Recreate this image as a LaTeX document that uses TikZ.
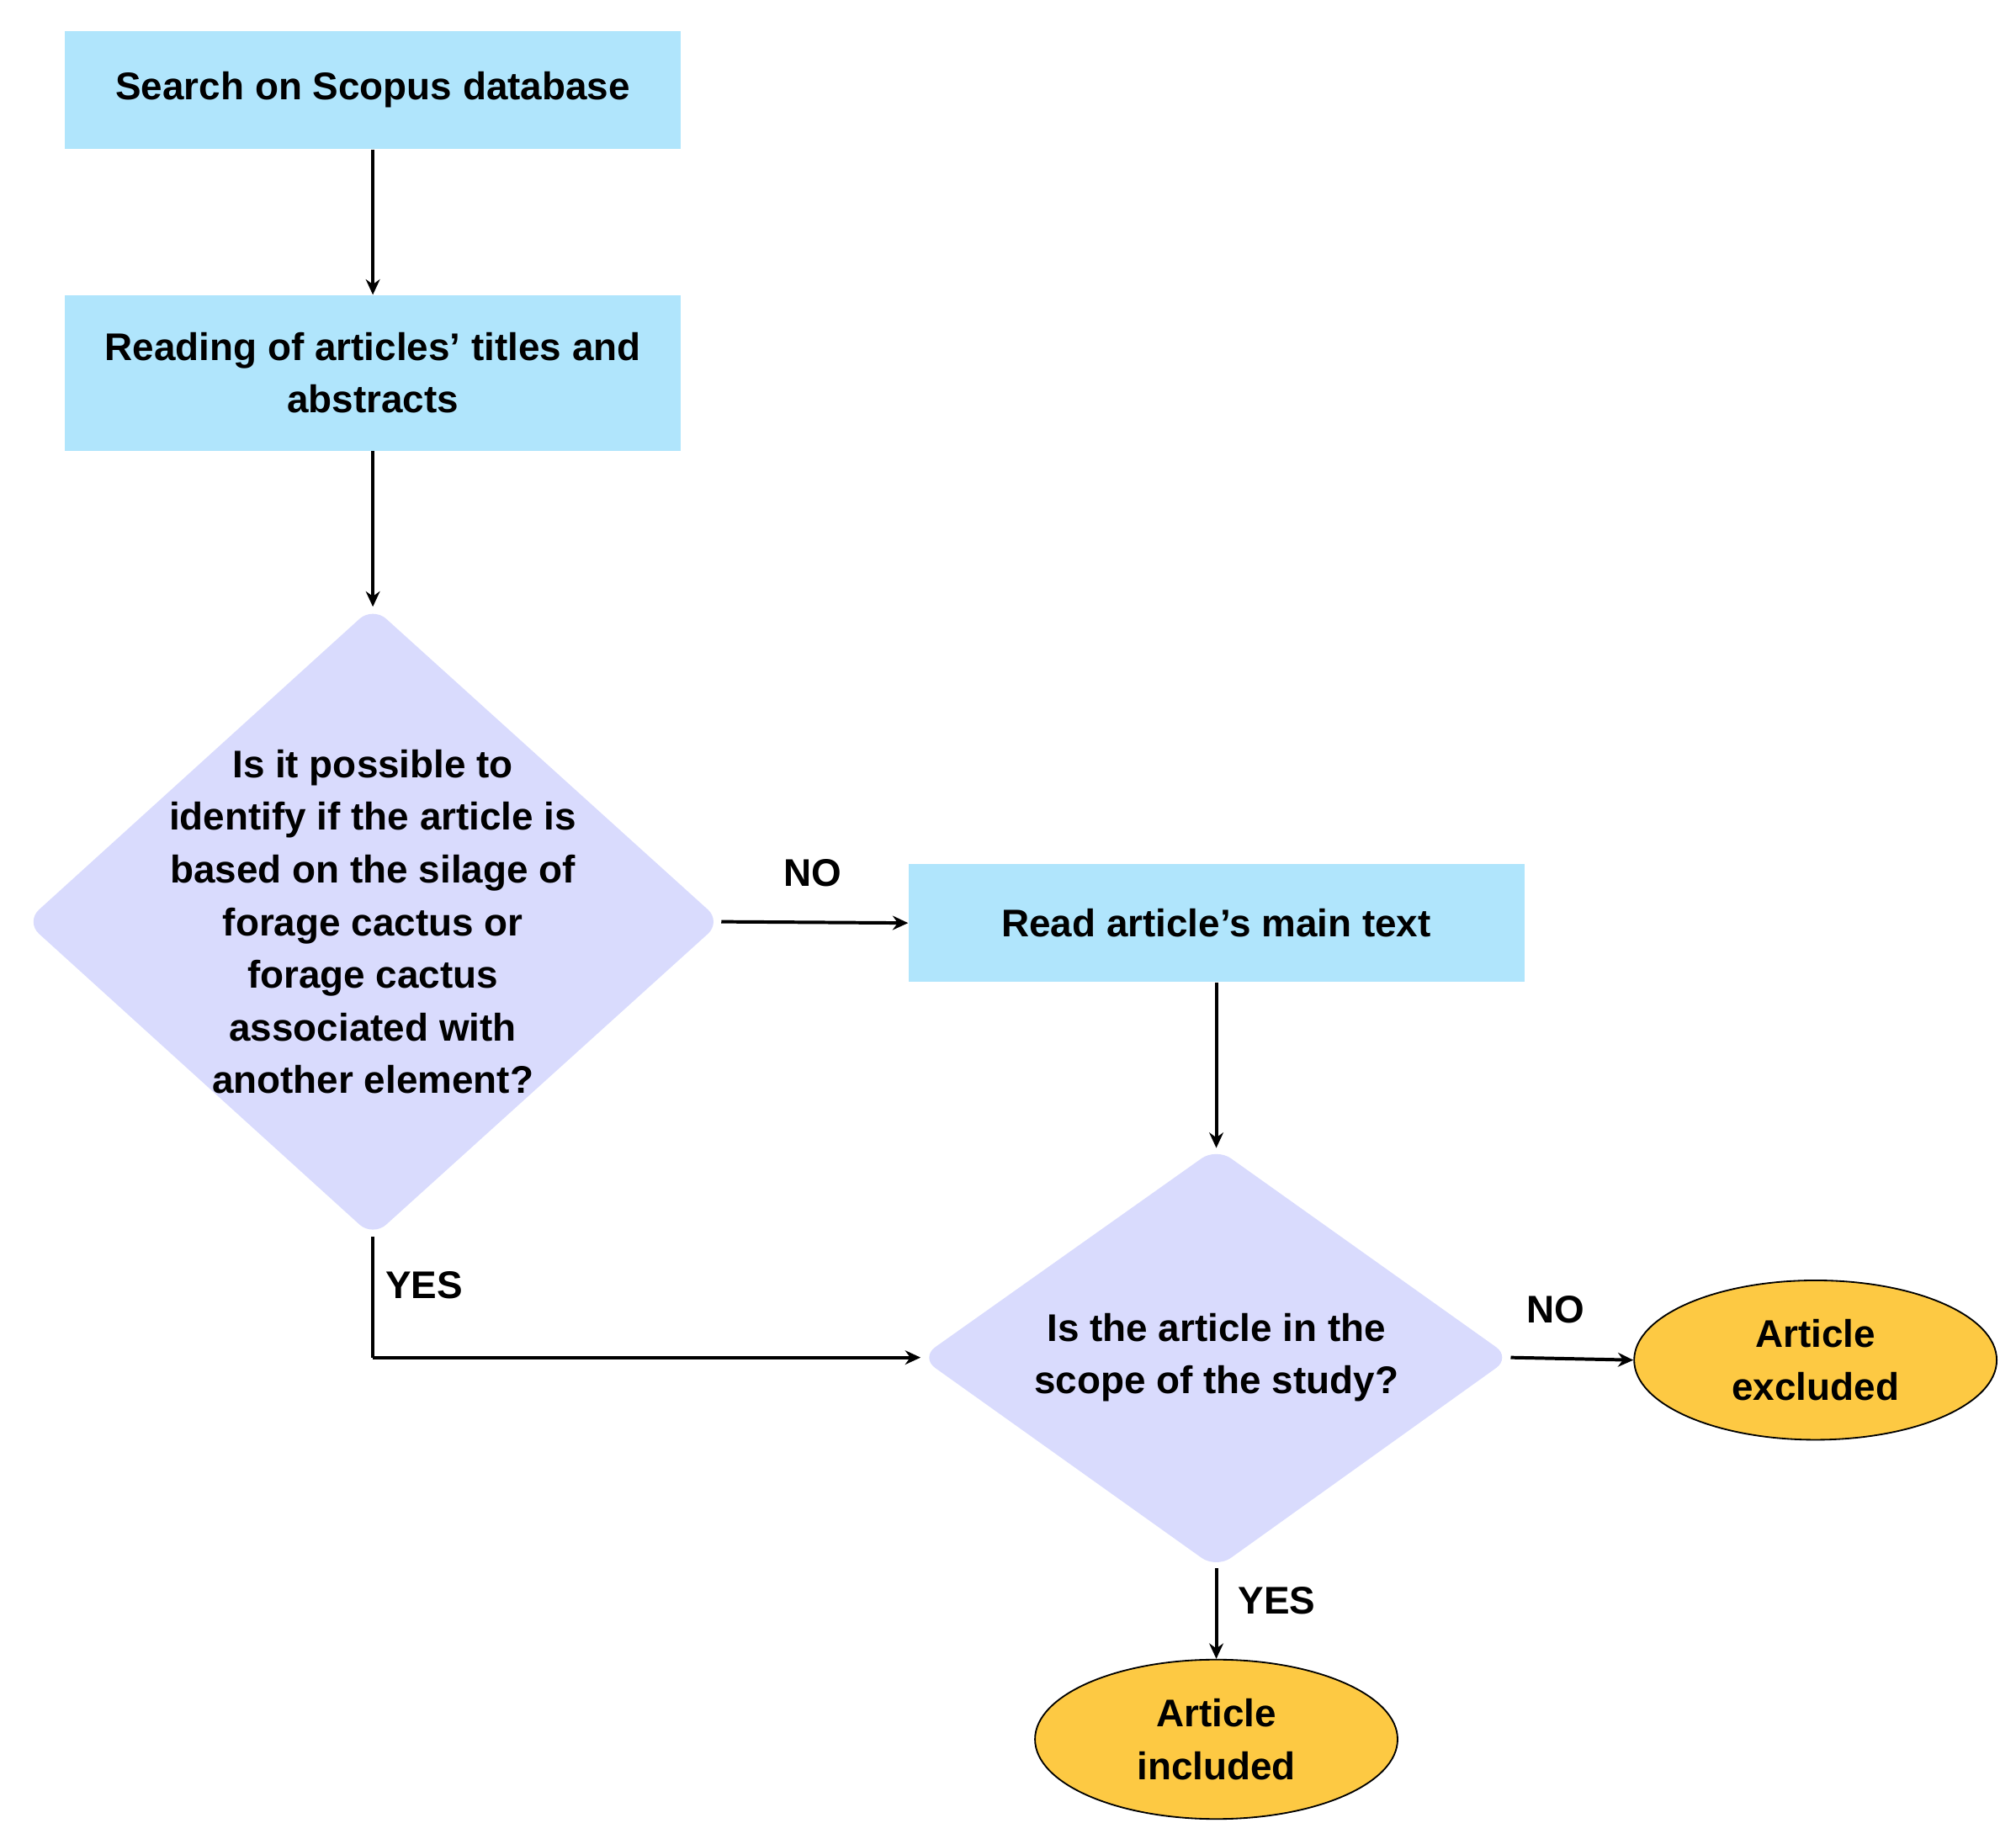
\documentclass[tikz,border=0pt]{standalone}
\usepackage{fontspec}
\setmainfont{Liberation Sans}
\usetikzlibrary{arrows.meta,shapes.geometric}
\definecolor{boxc}{HTML}{B0E5FC}
\definecolor{diac}{HTML}{D9DBFD}
\definecolor{ellc}{HTML}{FDC943}
\begin{document}
\begin{tikzpicture}[x=1pt,y=-1pt,
  txt/.style={font=\fontsize{30}{41}\selectfont\bfseries,align=center},
  box/.style={txt,fill=boxc,minimum width=479pt,inner sep=0pt},
  ell/.style={txt,ellipse,draw=black,line width=1.2pt,fill=ellc,minimum width=282pt,minimum height=124pt,inner sep=0pt},
  dia/.style={fill=diac,rounded corners=14pt},
  arr/.style={draw,line width=2.6pt,-{Stealth[length=12pt,width=11pt]}},
  lab/.style={txt}]
\useasboundingbox (0,0) rectangle (1568,1430);
\node[box,minimum height=92pt] (b1) at (290,70) {Search on Scopus database};
\node[box,minimum height=121pt] (b2) at (290,290) {Reading of articles' titles and\\abstracts};
\coordinate (d1t) at (290,472); \coordinate (d1b) at (290,962);
\coordinate (d1l) at (20,717); \coordinate (d1r) at (561,717);
\path[dia] (d1t) -- (d1r) -- (d1b) -- (d1l) -- cycle;
\node[txt] (d1) at (290,717) {Is it possible to\\identify if the article is\\based on the silage of\\forage cactus or\\forage cactus\\associated with\\another element?};
\node[box,minimum height=92pt] (b3) at (946,718) {Read article's main text};
\coordinate (d2t) at (946,893); \coordinate (d2b) at (946,1220);
\coordinate (d2l) at (716,1056); \coordinate (d2r) at (1175,1056);
\path[dia] (d2t) -- (d2r) -- (d2b) -- (d2l) -- cycle;
\node[txt] (d2) at (946,1056) {Is the article in the\\scope of the study?};
\node[ell] (ex) at (1412,1058) {Article\\excluded};
\node[ell] (in) at (946,1353) {Article\\included};
\coordinate (corner) at (290,1056);
\draw[arr] (b1) -- (b2);
\draw[arr] (b2) -- (d1t);
\draw[arr] (d1r) -- (b3.west);
\draw[arr] (b3) -- (d2t);
\draw[line width=2.6pt] (d1b) -- (corner);
\draw[arr] (corner) -- (d2l);
\draw[arr] (d2r) -- (ex.west);
\draw[arr] (d2b) -- (in.north);
\node[lab] (no1) at (632,679) {NO};
\node[lab] (yes1) at (330,1000) {YES};
\node[lab] (no2) at (1210,1019) {NO};
\node[lab] (yes2) at (993,1245) {YES};
\end{tikzpicture}
\end{document}
